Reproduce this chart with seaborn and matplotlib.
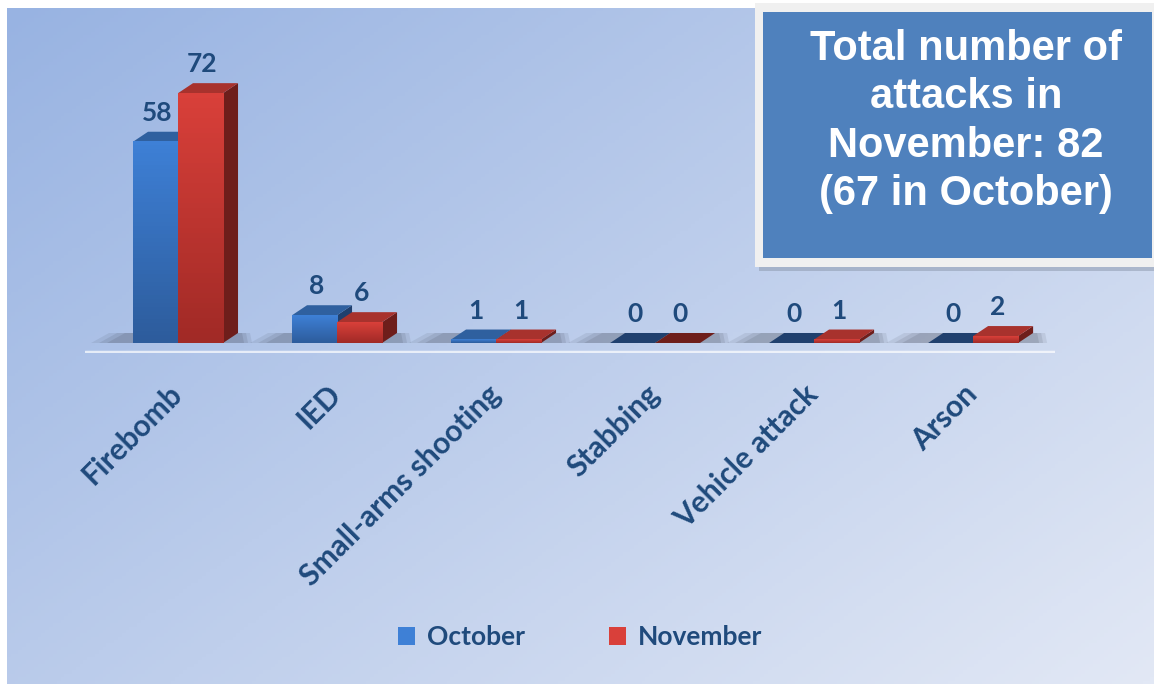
import numpy as np
import pandas as pd
import matplotlib.pyplot as plt
import matplotlib.colors as mcolors
import seaborn as sns
from matplotlib.patches import Polygon, Rectangle, Patch
from matplotlib.transforms import IdentityTransform

# --- dati ---
categories = ["Firebomb", "IED", "Small-arms shooting", "Stabbing", "Vehicle attack", "Arson"]
october = [58, 8, 1, 0, 0, 0]
november = [72, 6, 1, 0, 1, 2]
months = ["October", "November"]
box_text = "Total number of\nattacks in\nNovember: 82\n(67 in October)"

W, H, DPI = 1154, 684, 100
NAVY = "#1F4A7C"
# colori: fronte chiaro, fronte scuro, top, lato
BLUE = ("#3E80D6", "#2D5C9C", "#2F609F", "#20406E")
RED = ("#D9403A", "#A12A26", "#A8322D", "#6E1E1B")
DX, DY = 15, 10  # profondita finta 3D in pixel

df = pd.DataFrame({
    "Type": categories * 2,
    "Attacks": october + november,
    "Month": [months[0]] * len(categories) + [months[1]] * len(categories),
})

sns.set_theme(style="white")
plt.rcParams["font.family"] = ["Lato", "DejaVu Sans"]

fig = plt.figure(figsize=(W / DPI, H / DPI), dpi=DPI, facecolor="white")

# sfondo sfumato
bg = fig.add_axes([7 / W, 0, 1 - 7 / W, 1 - 8 / H], zorder=0)
yy, xx = np.mgrid[0:1:200j, 0:1:300j]
grad = xx * 0.55 + yy * 0.45
cmap = mcolors.LinearSegmentedColormap.from_list("bg", ["#98B3E2", "#E2E8F5"])
bg.imshow(grad, cmap=cmap, aspect="auto", extent=[0, 1, 0, 1], vmin=0, vmax=1)
bg.axis("off")

ax = fig.add_axes([85 / W, 1 - 353.4 / H, 970 / W, 288 / H], zorder=1)
ax.patch.set_alpha(0)
sns.barplot(data=df, x="Type", y="Attacks", hue="Month", palette=[BLUE[0], RED[0]],
            width=0.566, linewidth=0, legend=False, ax=ax, zorder=3)

XLIM, YLIM = (-0.585, 5.515), (-3, 80)
ax.set_xlim(XLIM)
ax.set_ylim(YLIM)

# ombre sul pavimento
for p in ax.containers[0].patches:
    x0, w = p.get_x(), p.get_width()
    (px0, py0), = ax.transData.transform([(x0, 0)])
    px1 = px0 + 2 * (ax.transData.transform([(x0 + w, 0)])[0][0] - px0)
    for k, a in [(0, 0.10), (8, 0.12), (16, 0.14)]:
        shadow = [(px0 - 42 + k, py0), (px1 + DX + 14 - k / 2, py0),
                  (px1 + DX + 12 - k / 2, py0 + DY), (px0 - 24 + k, py0 + DY)]
        ax.add_patch(Polygon(shadow, closed=True, transform=IdentityTransform(),
                             fc="#3A4150", ec="none", alpha=a, zorder=1.5))

# facce 3D e gradiente sulle facce frontali
for cont, cols in zip(ax.containers, [BLUE, RED]):
    for p in cont.patches:
        x0, w, h = p.get_x(), p.get_width(), p.get_height()
        (px0, py0), (px1, py1) = ax.transData.transform([(x0, 0), (x0 + w, h)])
        top = [(px0, py1), (px1, py1), (px1 + DX, py1 + DY), (px0 + DX, py1 + DY)]
        side = [(px1, py0), (px1 + DX, py0 + DY), (px1 + DX, py1 + DY), (px1, py1)]
        ax.add_patch(Polygon(side, closed=True, transform=IdentityTransform(),
                             fc=cols[3], ec="none", zorder=2))
        ax.add_patch(Polygon(top, closed=True, transform=IdentityTransform(),
                             fc=cols[2] if h > 0 else cols[3], ec="none", zorder=2))
        if h > 0:
            g = np.linspace(1, 0, 50).reshape(-1, 1)
            cm = mcolors.LinearSegmentedColormap.from_list("f", [cols[1], cols[0]])
            ax.imshow(g, cmap=cm, aspect="auto", extent=[x0, x0 + w, 0, h],
                      vmin=0, vmax=1, zorder=3)
        ax.annotate(f"{h:.0f}", (x0 + w / 2, h), xytext=(2, 29), textcoords="offset pixels",
                    ha="center", va="center", fontsize=19, fontweight="bold", color=NAVY)

ax.set_xlim(XLIM)
ax.set_ylim(YLIM)
ax.axhline(-2.6, color="white", lw=2.5, alpha=0.7, zorder=1)

ax.set_xlabel("")
ax.set_ylabel("")
ax.set_yticks([])
ax.set_xticks(range(len(categories)))
ax.set_xticklabels(categories, rotation=45, ha="right", va="center", rotation_mode="anchor",
                   fontsize=21.5, fontweight="bold", color=NAVY)
ax.tick_params(axis="x", length=0, pad=26)
sns.despine(ax=ax, left=True, bottom=True)

# legenda
handles = [Patch(fc=BLUE[0], ec="none"), Patch(fc=RED[0], ec="none")]
leg = fig.legend(handles, months, loc="center", bbox_to_anchor=(0.5026, 1 - 637 / H), ncol=2,
                 frameon=False, handlelength=0.65, handleheight=0.65, handletextpad=0.45,
                 columnspacing=3.2, prop={"size": 19, "weight": "bold"})
for t in leg.get_texts():
    t.set_color(NAVY)

# riquadro con il totale
fig.patches.append(Rectangle((759 / W, 1 - 271 / H), 400 / W, 264 / H, transform=fig.transFigure,
                             fc="#8A96AA", ec="none", alpha=0.5, zorder=4))
fig.patches.append(Rectangle((755 / W, 1 - 267 / H), 400 / W, 264 / H, transform=fig.transFigure,
                             fc="#F0F0F0", ec="none", zorder=5))
fig.patches.append(Rectangle((763 / W, 1 - 258 / H), 389 / W, 246 / H, transform=fig.transFigure,
                             fc="#4F81BD", ec="none", zorder=6))
fig.text(966 / W, 1 - 121.5 / H, box_text, ha="center", va="center", color="white",
         fontsize=30, fontweight="bold", family=["Liberation Sans", "DejaVu Sans"],
         linespacing=1.26, zorder=7)

fig.savefig("out.png", dpi=DPI, facecolor=fig.get_facecolor())
